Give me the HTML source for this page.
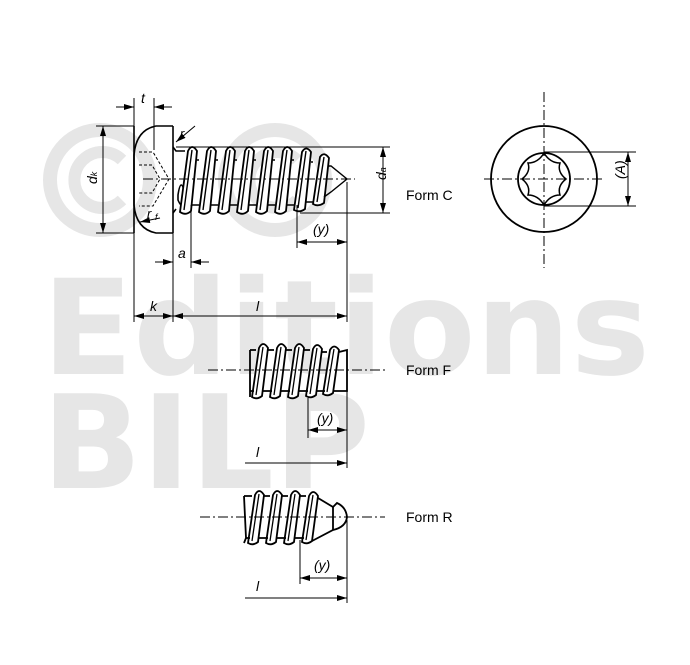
<!DOCTYPE html>
<html><head><meta charset="utf-8"><style>
html,body{margin:0;padding:0;background:#fff;}
svg{display:block}
text{font-family:"Liberation Sans",sans-serif;}
</style></head><body>
<svg width="690" height="665" viewBox="0 0 690 665" xmlns="http://www.w3.org/2000/svg">
<defs>
<marker id="ar" markerWidth="10" markerHeight="6" refX="10" refY="3" orient="auto-start-reverse" markerUnits="userSpaceOnUse"><path d="M0,0 L10,3 L0,6 Z" fill="#000"/></marker>
</defs>
<!-- watermark -->
<g fill="#e6e6e6">
<circle cx="100" cy="180" r="50" fill="none" stroke="#e6e6e6" stroke-width="14"/>
<path d="M122,160 A28,28 0 1 0 122,200" fill="none" stroke="#e6e6e6" stroke-width="12"/>
<circle cx="275" cy="180" r="50" fill="none" stroke="#e6e6e6" stroke-width="14"/>
<path d="M297,160 A28,28 0 1 0 297,200" fill="none" stroke="#e6e6e6" stroke-width="12"/>
<text x="42" y="374" font-size="132" font-weight="bold" textLength="608" lengthAdjust="spacingAndGlyphs" style="font-family:'DejaVu Sans',sans-serif">Editions</text>
<text x="42" y="488" font-size="130" font-weight="bold" textLength="328" lengthAdjust="spacingAndGlyphs" style="font-family:'DejaVu Sans',sans-serif">BILP</text>
</g>
<g fill="none" stroke="#000" stroke-width="1.6">
<!-- head -->
<path d="M134,126 L134,233"/>
<path d="M173,126 L173,233"/>
<path d="M173,126 L156,126 Q136,130 134,155 L134,205 Q136,229 156,233 L173,233"/>
<path d="M139,152 L153,152 L169,179 L153,206 L139,206" stroke-width="1" stroke-dasharray="3,2"/>
<path d="M139,165 L152,165 L160,179 L152,193 L139,193" stroke-width="1" stroke-dasharray="3,2"/>
<!-- shank -->
<path d="M173,147 L176,151 L185,151 M173,213 L176,209"/>
<path d="M178,195 Q181,175 185,195 Q183,212 178,200 Z"/>
<g stroke-width="1.8" fill="#fff">
<path d="M180,212 L188,151 Q192,143 197,151 L191,211 Q186,216 180,212 Z"/>
<path d="M199,212 L207,151 Q211,143 216,151 L210,211 Q205,216 199,212 Z"/>
<path d="M218,212 L226,151 Q230,143 235,151 L229,211 Q224,216 218,212 Z"/>
<path d="M237,212 L245,151 Q249,143 254,151 L248,211 Q243,216 237,212 Z"/>
<path d="M256,212 L264,151 Q268,143 273,151 L267,211 Q262,216 256,212 Z"/>
<path d="M275,212 L283,151 Q287,143 292,151 L286,211 Q281,216 275,212 Z"/>
<path d="M294,210 L302,152 Q306,145 311,152 L305,209 Q300,213 294,210 Z"/>
<path d="M313,204 L320,157 Q324,151 329,158 L324,203 Q318,207 313,204 Z"/>
</g>
<g stroke-width="1.4">
<path d="M184,210 L192,150 M203,210 L211,150 M222,210 L230,150 M241,210 L249,150 M260,210 L268,150 M279,210 L287,150 M298,208 L306,151 M317,202 L324,157"/>
<path d="M197,160 L199,160 M216,160 L218,160 M235,160 L237,160 M254,160 L256,160 M273,160 L275,160 M292,160 L294,160 M311,162 L313,162 M328,166 L331,166 L347,179 L331,192 L324,197"/>
<path d="M191,205 L199,205 M210,205 L218,205 M229,205 L237,205 M248,205 L256,205 M267,205 L275,205 M286,205 L294,205 M305,202 L313,202"/>
</g>
</g>
<g fill="none" stroke="#000" stroke-width="1">
<path d="M143,179 L355,179" stroke-dasharray="10,3,2,3"/>
<path d="M134,98 L134,322 M154,98 L154,150 M173,233 L173,322 M347,182 L347,322 M191,205 L191,268 M297,205 L297,248"/>
<path d="M96,126 L134,126 M96,233 L134,233 M176,147 L390,147 M300,213 L390,213"/>
<path d="M116,107 L134,107" marker-end="url(#ar)"/><path d="M172,107 L154,107" marker-end="url(#ar)"/>
<path d="M103,126 L103,233" marker-start="url(#ar)" marker-end="url(#ar)"/>
<path d="M383,147 L383,213" marker-start="url(#ar)" marker-end="url(#ar)"/>
<path d="M155,262 L173,262" marker-end="url(#ar)"/><path d="M209,262 L191,262" marker-end="url(#ar)"/>
<path d="M297,242 L347,242" marker-start="url(#ar)" marker-end="url(#ar)"/>
<path d="M134,316 L173,316" marker-start="url(#ar)" marker-end="url(#ar)"/>
<path d="M173,316 L347,316" marker-start="url(#ar)" marker-end="url(#ar)"/>
<path d="M195,126 L176,142" marker-end="url(#ar)"/>
<path d="M160,218 L140,222" marker-end="url(#ar)"/>
</g>
<g font-size="14" font-style="italic">
<text x="141" y="103">t</text>
<text x="178" y="258">a</text>
<text x="313" y="234">(y)</text>
<text x="150" y="311">k</text>
<text x="256" y="311">l</text>
<text x="180" y="138" font-size="13">r</text>
<text x="147" y="218" font-size="13">r</text><text x="155" y="220" font-size="9">f</text>
</g>
<text x="92" y="189" font-size="14" font-style="italic" transform="rotate(-90 92 184)">d<tspan font-size="9">k</tspan></text>
<text x="378" y="188" font-size="14" font-style="italic" transform="rotate(-90 378 180)">d<tspan font-size="9">a</tspan></text>
<g font-size="14"><text x="406" y="200">Form C</text><text x="406" y="375">Form F</text><text x="406" y="522">Form R</text></g>

<!-- Form F -->
<g fill="none" stroke="#000" stroke-width="1.8">
<path d="M250,350 L250,397"/>
<g fill="#fff">
<path d="M252,397 L259,348 Q263,340 268,348 L262,396 Q257,400 252,397 Z"/>
<path d="M270,397 L277,348 Q281,340 286,348 L280,396 Q275,400 270,397 Z"/>
<path d="M288,397 L295,348 Q299,340 304,348 L298,396 Q293,400 288,397 Z"/>
<path d="M306,396 L313,349 Q317,341 322,349 L316,395 Q311,399 306,396 Z"/>
<path d="M323,394 L330,350 Q334,343 339,350 L333,393 Q328,397 323,394 Z"/>
</g>
<path d="M256,395 L263,347 M274,395 L281,347 M292,395 L299,347 M310,394 L317,348 M327,392 L334,349" stroke-width="1.3"/>
<path d="M339,352 L347,350 L347,391 L333,391"/>
<path d="M250,350 L256,350 M268,350 L274,350 M286,350 L292,350 M304,350 L310,350 M322,352 L327,352"/>
<path d="M250,391 L254,391 M262,391 L272,391 M280,391 L290,391 M298,391 L308,391 M316,391 L325,391"/>
</g>
<g fill="none" stroke="#000" stroke-width="1">
<path d="M208,370 L385,370" stroke-dasharray="10,3,2,3"/>
<path d="M347,391 L347,468 M308,398 L308,438"/>
<path d="M308,430 L347,430" marker-start="url(#ar)" marker-end="url(#ar)"/>
<path d="M245,463 L347,463" marker-end="url(#ar)"/>
</g>
<text x="317" y="423" font-size="14" font-style="italic">(y)</text>
<text x="256" y="457" font-size="14" font-style="italic">l</text>

<!-- Form R -->
<g fill="none" stroke="#000" stroke-width="1.8">
<path d="M244,496 L246,538 L244,543"/>
<g fill="#fff">
<path d="M248,543 L255,495 Q259,487 264,495 L258,542 Q253,546 248,543 Z"/>
<path d="M266,543 L273,495 Q277,487 282,495 L276,542 Q271,546 266,543 Z"/>
<path d="M284,543 L291,495 Q295,487 300,495 L294,542 Q289,546 284,543 Z"/>
<path d="M302,542 L309,496 Q313,488 318,496 L312,541 Q307,545 302,542 Z"/>
</g>
<path d="M252,541 L259,494 M270,541 L277,494 M288,541 L295,494 M306,540 L313,495" stroke-width="1.3"/>
<path d="M318,498 L333,507 L337,503 Q346,507 347,517 Q346,527 333,530 L312,541"/>
<path d="M333,507 L333,530"/>
<path d="M244,496 L252,496 M264,496 L270,496 M282,496 L288,496 M300,496 L306,496"/>
<path d="M246,538 L250,538 M258,538 L268,538 M276,538 L286,538 M294,538 L304,538"/>
</g>
<g fill="none" stroke="#000" stroke-width="1">
<path d="M200,517 L385,517" stroke-dasharray="10,3,2,3"/>
<path d="M347,520 L347,603 M300,540 L300,584"/>
<path d="M300,578 L347,578" marker-start="url(#ar)" marker-end="url(#ar)"/>
<path d="M245,598 L347,598" marker-end="url(#ar)"/>
</g>
<text x="314" y="570" font-size="14" font-style="italic">(y)</text>
<text x="256" y="591" font-size="14" font-style="italic">l</text>

<!-- end view -->
<g fill="none" stroke="#000">
<circle cx="544" cy="179" r="53" stroke-width="1.8"/>
<circle cx="544" cy="179" r="26" stroke-width="1.8"/>
<path d="M544,153 Q538,163 528,163 Q531,172 522,179 Q531,186 528,195 Q538,195 544,205 Q550,195 560,195 Q557,186 566,179 Q557,172 560,163 Q550,163 544,153 Z" stroke-width="1.5"/>
<path d="M544,92 L544,268 M484,179 L605,179" stroke-width="1" stroke-dasharray="10,3,2,3"/>
<path d="M544,152 L636,152 M544,206 L636,206" stroke-width="1"/>
<path d="M628,152 L628,206" stroke-width="1" marker-start="url(#ar)" marker-end="url(#ar)"/>
</g>
<text x="620" y="184" font-size="14" font-style="italic" transform="rotate(-90 620 179)">(A)</text>
</svg>
</body></html>
